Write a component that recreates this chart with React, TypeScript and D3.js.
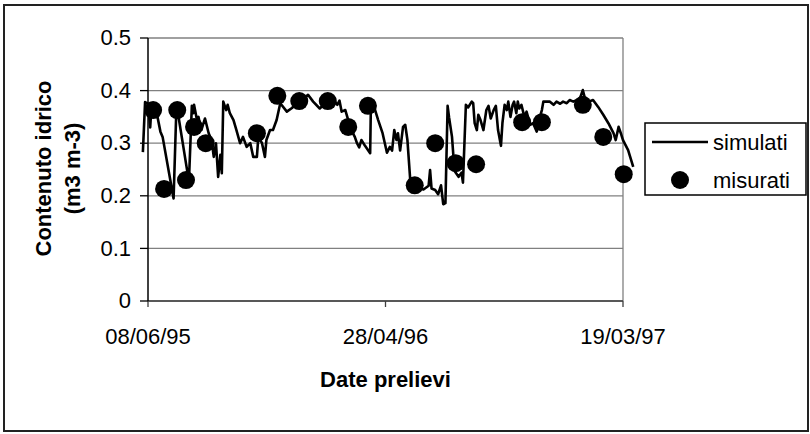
import React from 'react';
import * as d3 from 'd3';

// ---- data ----
const startDate = '1995-06-08';
const axisTickDays = [0, 325, 650];
const yTicks = [0, 0.1, 0.2, 0.3, 0.4, 0.5];

// simulated series: days since 08/06/95, value (m3 m-3)
const simDays = [
  -7, -4, 0, 3, 5, 7, 12, 17, 20, 35, 39, 41, 56, 60, 62, 63, 67, 69, 73, 78,
  83, 87, 90, 93, 96, 99, 101, 103, 107, 109, 112, 117, 121, 126, 130, 135, 140, 144, 149, 151,
  156, 160, 162, 167, 171, 176, 181, 190, 197, 206, 212, 219, 226, 235, 245, 254, 259, 262, 265, 270,
  274, 277, 283, 286, 289, 292, 297, 304, 305, 309, 315, 321, 327, 331, 334, 337, 340, 342, 345, 349,
  352, 355, 359, 365, 377, 384, 386, 388, 393, 397, 401, 404, 407, 410, 412, 416, 418, 420, 425, 429,
  431, 435, 438, 443, 445, 447, 450, 452, 455, 459, 463, 466, 469, 473, 476, 479, 483, 485, 488, 491,
  493, 496, 499, 501, 504, 506, 508, 511, 515, 518, 523, 527, 532, 535, 539, 541, 550, 555, 559, 564,
  568, 573, 577, 582, 587, 591, 595, 598, 603, 609, 616, 623, 630, 637, 640, 644, 647, 650, 657, 664,
];
const simValues = [
  0.283, 0.378, 0.375, 0.33, 0.375, 0.363, 0.357, 0.322, 0.312, 0.195, 0.373, 0.357, 0.227, 0.371, 0.357, 0.373, 0.344, 0.35, 0.325, 0.347,
  0.319, 0.306, 0.274, 0.3, 0.236, 0.278, 0.243, 0.379, 0.363, 0.373, 0.357, 0.344, 0.325, 0.3, 0.312, 0.293, 0.3, 0.274, 0.274, 0.312,
  0.3, 0.274, 0.306, 0.325, 0.325, 0.344, 0.376, 0.36, 0.367, 0.379, 0.383, 0.392, 0.379, 0.366, 0.379, 0.382, 0.373, 0.381, 0.36, 0.363,
  0.344, 0.328, 0.312, 0.3, 0.292, 0.306, 0.295, 0.281, 0.371, 0.371, 0.344, 0.319, 0.282, 0.293, 0.286, 0.325, 0.306, 0.319, 0.286, 0.331,
  0.335, 0.306, 0.227, 0.217, 0.212, 0.219, 0.249, 0.214, 0.211, 0.203, 0.22, 0.184, 0.186, 0.371, 0.349, 0.312, 0.274, 0.246, 0.236, 0.244,
  0.225, 0.373, 0.368, 0.379, 0.376, 0.338, 0.325, 0.354, 0.344, 0.325, 0.363, 0.371, 0.347, 0.363, 0.371, 0.325, 0.295, 0.338, 0.373, 0.363,
  0.379, 0.35, 0.373, 0.379, 0.357, 0.379, 0.366, 0.373, 0.35, 0.36, 0.335, 0.338, 0.322, 0.344, 0.363, 0.379, 0.379, 0.373, 0.379, 0.375,
  0.379, 0.376, 0.382, 0.379, 0.382, 0.385, 0.401, 0.385, 0.379, 0.382, 0.369, 0.354, 0.338, 0.319, 0.306, 0.331, 0.319, 0.306, 0.287, 0.255,
];

// measured samples
const measDays = [7, 22, 40, 52, 63, 79, 149, 177, 207, 246, 274, 301, 365, 393, 421, 449, 512, 539, 595, 623, 651];
const measValues = [0.363, 0.213, 0.363, 0.23, 0.331, 0.3, 0.319, 0.39, 0.38, 0.38, 0.331, 0.371, 0.22, 0.3, 0.262, 0.26, 0.34, 0.34, 0.373, 0.312, 0.241];

const legendLabels = ['simulati', 'misurati'];
const yTitleLines = ['Contenuto idrico', '(m3 m-3)'];
const xTitle = 'Date prelievi';

// ---- layout ----
const W = 810;
const H = 434;
const plot = { left: 148, right: 623, top: 38, bottom: 301 };
const FONT = '"Liberation Sans", Arial, sans-serif';

export default function App() {
  const t0 = d3.utcParse('%Y-%m-%d')(startDate) as Date;
  const day = (n: number) => d3.utcDay.offset(t0, n);
  const x = d3
    .scaleUtc()
    .domain([day(axisTickDays[0]), day(axisTickDays[axisTickDays.length - 1])])
    .range([plot.left, plot.right]);
  const y = d3.scaleLinear().domain([0, 0.5]).range([plot.bottom, plot.top]);
  const fmt = d3.utcFormat('%d/%m/%y');

  const simData = simDays.map((d, i) => ({ t: day(d), v: simValues[i] }));
  const measData = measDays.map((d, i) => ({ t: day(d), v: measValues[i] }));

  const line = d3
    .line<{ t: Date; v: number }>()
    .x((d) => x(d.t))
    .y((d) => y(d.v));

  const legX = 645;
  const legY = 123;
  const legW = 161;
  const legH = 72;
  const rowY = [142, 180];

  return (
    <svg
      width={W}
      height={H}
      style={{ position: 'absolute', left: 0, top: 0, background: '#fff' }}
      fontFamily={FONT}
    >
      <rect x={0} y={0} width={W} height={H} fill="#fff" />
      {/* outer border */}
      <rect x={4} y={5} width={804} height={426} fill="none" stroke="#222" strokeWidth={2} />

      {/* gridlines */}
      {yTicks.map((t) => (
        <line
          key={'g' + t}
          x1={plot.left}
          x2={plot.right}
          y1={y(t)}
          y2={y(t)}
          stroke="#808080"
          strokeWidth={1.3}
        />
      ))}
      {/* right border of plot area */}
      <line x1={plot.right} x2={plot.right} y1={plot.top} y2={plot.bottom} stroke="#808080" strokeWidth={1.3} />

      {/* x axis */}
      <line x1={plot.left} x2={plot.right} y1={plot.bottom} y2={plot.bottom} stroke="#404040" strokeWidth={1.5} />
      {axisTickDays.map((d) => (
        <g key={'xt' + d}>
          <line x1={x(day(d))} x2={x(day(d))} y1={plot.bottom} y2={plot.bottom + 6} stroke="#404040" strokeWidth={1.3} />
          <text x={x(day(d))} y={344} textAnchor="middle" fontSize={22} fill="#000">
            {fmt(day(d))}
          </text>
        </g>
      ))}

      {/* y axis */}
      <line x1={plot.left} x2={plot.left} y1={plot.top} y2={plot.bottom} stroke="#000" strokeWidth={1.5} />
      {yTicks.map((t) => (
        <g key={'yt' + t}>
          <line x1={plot.left - 8} x2={plot.left} y1={y(t)} y2={y(t)} stroke="#000" strokeWidth={1.3} />
          <text x={131} y={y(t)} dy="0.33em" textAnchor="end" fontSize={22} fill="#000">
            {d3.format('~g')(t)}
          </text>
        </g>
      ))}

      {/* simulated line */}
      <path d={line(simData) || ''} fill="none" stroke="#000" strokeWidth={2.6} strokeLinejoin="round" />

      {/* measured points */}
      {measData.map((d, i) => (
        <circle key={'m' + i} cx={x(d.t)} cy={y(d.v)} r={9} fill="#000" />
      ))}

      {/* axis titles */}
      <text x={(plot.left + plot.right) / 2} y={387} textAnchor="middle" fontSize={22} fontWeight="bold" fill="#000">
        {xTitle}
      </text>
      <g transform={`translate(0, ${(plot.top + plot.bottom) / 2 - 1}) rotate(-90)`}>
        <text x={0} y={51} textAnchor="middle" fontSize={22} fontWeight="bold" fill="#000">
          {yTitleLines[0]}
        </text>
        <text x={0} y={80} textAnchor="middle" fontSize={22} fontWeight="bold" fill="#000">
          {yTitleLines[1]}
        </text>
      </g>

      {/* legend */}
      <rect x={legX} y={legY} width={legW} height={legH} fill="#fff" stroke="#000" strokeWidth={1.5} />
      <line x1={652} x2={708} y1={rowY[0]} y2={rowY[0]} stroke="#000" strokeWidth={2.6} />
      <text x={713} y={rowY[0]} dy="0.35em" fontSize={22} fill="#000">
        {legendLabels[0]}
      </text>
      <circle cx={680} cy={rowY[1]} r={9} fill="#000" />
      <text x={713} y={rowY[1]} dy="0.35em" fontSize={22} fill="#000">
        {legendLabels[1]}
      </text>
    </svg>
  );
}
